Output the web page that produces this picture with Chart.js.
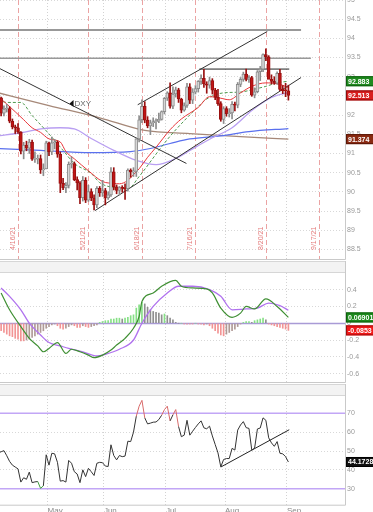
<!DOCTYPE html>
<html><head><meta charset="utf-8">
<script src="https://cdn.jsdelivr.net/npm/chart.js@4.4.1/dist/chart.umd.min.js"></script>
<style>
html,body{margin:0;padding:0;background:#fff;overflow:hidden}
#wrap{position:relative;width:373px;height:512px;background:#fff}
canvas{position:absolute;left:0}
</style></head><body>
<div id="wrap">
<canvas id="main" width="373" height="260" style="top:0"></canvas>
<canvas id="macd" width="373" height="123" style="top:260px"></canvas>
<canvas id="rsi" width="373" height="129" style="top:383px"></canvas>
</div>
<script>
// ---------- DATA ----------
const firstDay = -7; // 4/7/21 ; 4/16/21 = day 0 (trading days, US holidays skipped)
const dates = ['4/7','4/8','4/9','4/12','4/13','4/14','4/15','4/16','4/19','4/20','4/21','4/22','4/23','4/26','4/27','4/28','4/29','4/30',
'5/3','5/4','5/5','5/6','5/7','5/10','5/11','5/12','5/13','5/14','5/17','5/18','5/19','5/20','5/21','5/24','5/25','5/26','5/27','5/28',
'6/1','6/2','6/3','6/4','6/7','6/8','6/9','6/10','6/11','6/14','6/15','6/16','6/17','6/18','6/21','6/22','6/23','6/24','6/25','6/28','6/29','6/30',
'7/1','7/2','7/6','7/7','7/8','7/9','7/12','7/13','7/14','7/15','7/16','7/19','7/20','7/21','7/22','7/23','7/26','7/27','7/28','7/29','7/30',
'8/2','8/3','8/4','8/5','8/6','8/9','8/10','8/11','8/12','8/13','8/16','8/17','8/18','8/19','8/20','8/23','8/24','8/25','8/26','8/27','8/30','8/31','9/1'];
const openP = [92.33,92.45,92.05,92.16,92.17,91.84,91.69,91.67,91.56,91.06,91.22,91.14,91.30,90.85,90.85,90.87,90.57,90.60,
91.28,91.04,91.28,91.29,90.98,90.22,90.10,90.17,90.72,90.74,90.32,90.23,89.85,90.30,89.78,90.01,89.84,89.66,90.09,89.97,
90.03,89.84,89.92,90.52,90.13,90.04,90.11,90.09,90.08,90.57,90.52,90.53,91.38,91.88,92.23,91.87,91.72,91.80,91.83,91.85,91.89,92.09,
92.44,92.58,92.23,92.55,92.66,92.42,92.13,92.25,92.74,92.39,92.60,92.69,92.88,92.96,92.81,92.78,92.90,92.65,92.47,92.30,91.89,
92.17,92.04,92.06,92.28,92.26,92.80,92.93,93.07,92.93,92.98,92.52,92.61,93.13,93.20,93.58,93.52,92.93,92.88,92.83,93.09,92.67,92.64,92.63];
const highP = [92.57,92.47,92.24,92.28,92.22,91.90,91.74,91.78,91.57,91.29,91.32,91.37,91.35,91.04,90.96,90.96,90.73,91.32,
91.30,91.43,91.37,91.33,91.04,90.35,90.24,90.78,90.91,90.78,90.39,90.27,90.40,90.37,90.17,90.08,89.92,90.14,90.14,90.30,
90.09,90.00,90.63,90.63,90.18,90.14,90.16,90.21,90.60,90.60,90.63,91.40,91.98,92.40,92.35,91.96,91.87,91.93,91.90,92.05,92.11,92.46,
92.61,92.84,92.74,92.73,92.70,92.44,92.32,92.83,92.82,92.69,92.77,92.90,93.05,93.19,92.87,92.99,92.95,92.70,92.67,92.35,92.22,
92.22,92.17,92.35,92.34,92.85,92.98,93.12,93.20,93.03,93.01,92.71,93.16,93.27,93.60,93.73,93.55,93.05,93.00,93.13,93.19,92.77,92.83,92.78];
const lowP = [92.29,91.98,91.98,92.08,91.80,91.64,91.52,91.52,90.99,90.86,91.07,91.00,90.82,90.77,90.73,90.48,90.42,90.60,
90.94,90.97,91.12,90.90,89.98,90.06,89.98,90.10,90.62,90.29,90.05,89.69,89.76,89.72,89.75,89.77,89.53,89.59,89.88,89.88,
89.66,89.80,89.88,90.05,89.95,89.92,89.99,89.80,90.02,90.38,90.40,90.40,91.30,91.80,91.80,91.67,91.49,91.70,91.64,91.80,91.87,92.03,
92.38,92.18,92.17,92.47,92.33,92.06,92.10,92.20,92.30,92.30,92.55,92.60,92.80,92.72,92.57,92.70,92.55,92.40,92.25,91.84,91.78,
91.97,91.95,91.90,92.11,92.19,92.74,92.88,92.89,92.85,92.49,92.45,92.58,92.90,93.13,93.42,92.96,92.81,92.80,92.80,92.64,92.56,92.48,92.39];
const closeP = [92.45,92.05,92.16,92.17,91.84,91.69,91.67,91.56,91.06,91.22,91.14,91.30,90.85,90.85,90.87,90.57,90.60,91.28,
91.04,91.28,91.29,90.98,90.22,90.10,90.17,90.72,90.74,90.32,90.23,89.85,90.30,89.78,90.01,89.84,89.66,90.09,89.97,90.03,
89.84,89.92,90.52,90.13,90.04,90.11,90.09,90.08,90.57,90.52,90.53,91.38,91.88,92.23,91.87,91.72,91.80,91.83,91.85,91.89,92.09,92.44,
92.58,92.23,92.55,92.66,92.42,92.13,92.25,92.74,92.39,92.60,92.69,92.88,92.96,92.81,92.78,92.90,92.65,92.47,92.30,91.89,92.17,
92.04,92.06,92.28,92.26,92.80,92.93,93.07,92.93,92.98,92.52,92.61,93.13,93.20,93.58,93.52,92.93,92.88,92.83,93.09,92.67,92.64,92.63,92.513];

// moving averages (day index -> value)
const redMaDay = [-7,-4,2,5,8,11,15,17,20,25,30,34,36,39,41,43,46,49,54,58,64,68,72,75,79,83,88,92,96];
const redMaVal = [92.48,92.29,91.88,91.67,91.55,91.38,91.30,91.05,90.86,90.55,90.27,90.22,90.21,90.30,90.45,90.60,90.90,91.16,91.62,91.90,92.20,92.48,92.44,92.40,92.58,92.75,92.84,92.82,92.72];
const greenMaDay = [-7,-4,1,5,11,16,20,26,29,34,39,43,50,54,60,63,67,73,79,83,88,92,96];
const greenMaVal = [92.40,92.33,92.33,91.99,91.51,91.08,90.74,90.48,90.24,90.11,90.08,90.40,91.08,91.45,91.93,92.15,92.42,92.58,92.60,92.66,92.75,92.84,92.883];
const lavMaDay = [-7,1,9,15,20,26,34,42,49,56,61,69,76,83,90,96];
const lavMaVal = [91.46,91.54,91.65,91.67,91.64,91.39,91.08,90.82,90.71,90.87,91.08,91.41,91.67,92.12,92.46,92.59];
const blueMaDay = [-7,8,26,40,47,54,61,72,82,96];
const blueMaVal = [91.13,91.08,91.02,91.05,91.13,91.26,91.38,91.46,91.57,91.65];
const brownMaDay = [-7,11,29,45,61,79,96];
const brownMaVal = [92.58,92.25,91.93,91.60,91.52,91.44,91.374];

// drawn trend lines (day, value)
const descLineDay = [-6.4, 59.8], descLineVal = [93.21, 90.74];
const upChanDay = [42.5, 88.5], upChanVal = [92.27, 94.18];
const loChanDay = [27.3, 100.5], loChanVal = [89.51, 92.98];
const hLine1Day = [-6.4, 100.5], hLine1Val = [94.22, 94.22];
const hLine2Day = [-6.4, 104], hLine2Val = [93.48, 93.48];
const hLine3Day = [64.4, 96.3], hLine3Val = [93.20, 93.20];

const markerDays = [0, 25, 44, 63, 88, 107];
const markerLabels = ['4/16/21','5/21/21','6/18/21','7/16/21','8/20/21','9/17/21'];
const monthTickDays = [10.5, 30.5, 52.5, 73.5, 95.5];
const monthLabels = ['May','Jun','Jul','Aug','Sep'];
const dxyTag = {day: 19, value: 92.30, text: 'DXY'};

// MACD
const macdDay = [-6,-3,1,4,7,9,11,14,17,19,22,25,27,30,33,35,38,41,43,44,48,51,56,58,62,67,69,72,76,79,81,84,88,92,96];
const macdVal = [0.36,0.16,-0.04,-0.18,-0.27,-0.34,-0.30,-0.23,-0.36,-0.31,-0.34,-0.38,-0.41,-0.38,-0.32,-0.26,-0.18,-0.06,0.08,0.26,0.36,0.44,0.51,0.44,0.42,0.41,0.36,0.18,0.07,0.12,0.20,0.17,0.29,0.20,0.06901];
const signalDay = [-6,-3,1,4,8,11,15,18,23,28,31,36,41,44,48,53,57,62,68,72,76,81,85,89,93,96];
const signalVal = [0.42,0.32,0.16,0.0,-0.14,-0.23,-0.27,-0.30,-0.34,-0.39,-0.37,-0.31,-0.20,0.0,0.20,0.36,0.44,0.44,0.40,0.32,0.16,0.17,0.18,0.24,0.21,0.1543];
const histVal = [-0.08,-0.09,-0.11,-0.13,-0.15,-0.16,-0.18,
-0.19,-0.21,-0.21,-0.20,-0.19,-0.17,-0.15,-0.13,-0.11,-0.09,
-0.06,-0.04,-0.02,-0.01,-0.03,-0.06,-0.07,-0.06,-0.04,-0.02,
-0.03,-0.05,-0.05,-0.03,-0.04,-0.05,-0.04,-0.03,-0.02,0.01,
0.02,0.03,0.03,0.05,0.05,0.06,0.06,0.05,0.06,0.07,
0.09,0.10,0.18,0.22,0.25,0.23,0.19,0.16,0.14,0.13,
0.12,0.10,0.11,0.09,0.06,0.04,0.01,0.00,0.00,-0.01,
-0.01,-0.01,-0.01,0.00,-0.01,-0.01,-0.02,-0.01,-0.03,-0.06,
-0.09,-0.12,-0.14,-0.15,-0.13,-0.11,-0.09,-0.07,-0.04,-0.01,
0.01,0.02,0.02,0.01,0.03,0.04,0.05,0.06,0.04,-0.01,
-0.02,-0.03,-0.04,-0.05,-0.06,-0.07,-0.0853];

// RSI
const rsiVal = [49.0,49.6,50.2,47.5,44.5,42.5,41.5,
40.5,33.5,35.8,35.0,38.8,33.2,33.6,33.8,30.2,31.5,
48.0,42.5,48.8,48.5,44.0,34.0,34.3,33.5,45.0,43.5,
39.0,37.8,33.2,40.0,36.4,40.8,39.0,37.0,43.5,44.0,
43.8,42.0,41.8,53.3,47.6,45.3,47.6,47.0,47.3,55.2,
55.0,60.0,68.5,73.8,76.9,67.6,64.4,64.8,65.3,65.4,
66.7,69.0,72.0,73.8,66.0,69.2,72.0,63.0,57.6,58.4,
66.3,58.4,60.5,62.5,64.4,66.0,62.3,61.8,63.2,58.0,
53.5,49.0,41.6,45.5,46.0,46.0,51.4,50.5,61.1,63.8,
65.6,62.4,62.0,50.5,51.5,61.7,62.2,67.6,66.3,57.0,
54.3,52.5,55.0,48.8,48.5,47.0,44.1728];
const rsiTrendDay = [72, 96.3], rsiTrendVal = [41.5, 61.3];
const rsiLevels = [70, 30];

// ---------- SETUP ----------
Chart.defaults.font.family = "'Liberation Sans', Arial, sans-serif";
Chart.defaults.animation = false;
const X_MIN = -6.4, X_MAX = 116.1;
const AXIS_W = 28;
const dayOf = k => k + firstDay;
const fmtTick = v => String(Number(Number(v).toFixed(3)));

function xScale(showLabels) {
  return {
    type: 'linear', min: X_MIN, max: X_MAX, offset: false,
    afterBuildTicks: s => { s.ticks = monthTickDays.map(v => ({value: v})); },
    grid: { color: '#d2d2d2', drawTicks: false, offset: false },
    border: { display: false, dash: [1, 2] },
    ticks: { display: showLabels, autoSkip: false, maxRotation: 0, minRotation: 0, align: 'start', padding: 1,
             color: '#8a8a8a', font: { size: 8 }, callback: (v, i) => monthLabels[i] },
    afterFit: s => { s.height = showLabels ? 7.3 : 0; s.paddingLeft = 0; s.paddingRight = 0; }
  };
}
function yScale(min, max, step) {
  return {
    position: 'right', min, max,
    ticks: { stepSize: step, includeBounds: false, color: '#999', font: { size: 7 }, padding: 2, callback: fmtTick },
    grid: { color: '#d8d8d8', drawTicks: false },
    border: { display: false, dash: [1, 2] },
    afterFit: s => { s.width = AXIS_W; s.paddingTop = 0; s.paddingBottom = 0; }
  };
}
function lineDs(days, vals, color, width, dash, order, smooth) {
  return { type: 'line', data: days.map((d, k) => ({x: d, y: vals[k]})), borderColor: color, borderWidth: width,
    borderDash: dash || [], pointRadius: 0, fill: false, order,
    cubicInterpolationMode: smooth ? 'monotone' : 'default', tension: 0 };
}
function drawBox(ctx, ca, yPx, text, bg, bd) {
  const h = 10;
  ctx.save();
  ctx.fillStyle = bg; ctx.fillRect(ca.right + 1, yPx - h / 2, 31, h);
  ctx.strokeStyle = bd; ctx.lineWidth = 1; ctx.strokeRect(ca.right + 1.5, yPx - h / 2 + 0.5, 31, h - 1);
  ctx.fillStyle = '#fff'; ctx.font = "bold 7px 'Liberation Sans', Arial"; ctx.textAlign = 'left'; ctx.textBaseline = 'middle';
  ctx.fillText(text, ca.right + 3, yPx + 0.5);
  ctx.restore();
}
function frame(ctx, ca, withBand) {
  ctx.save();
  ctx.strokeStyle = '#c9c9c9'; ctx.lineWidth = 1;
  if (withBand) {
    ctx.fillStyle = '#f3f3f3'; ctx.fillRect(0, 1, ca.right, ca.top - 1);
    ctx.strokeStyle = '#d6d6d6';
    ctx.beginPath(); ctx.moveTo(0, 1.5); ctx.lineTo(ca.right, 1.5); ctx.stroke();
    ctx.beginPath(); ctx.moveTo(0, ca.top - 0.5); ctx.lineTo(ca.right, ca.top - 0.5); ctx.stroke();
    ctx.strokeStyle = '#c9c9c9';
  }
  ctx.beginPath();
  ctx.moveTo(ca.right + 0.5, withBand ? 1 : 0); ctx.lineTo(ca.right + 0.5, ca.bottom + 0.5); ctx.lineTo(0, ca.bottom + 0.5);
  ctx.stroke();
  ctx.restore();
}

// ---------- MAIN PRICE PANEL ----------
const isUp = closeP.map((c, k) => c >= openP[k]);
const mainDecor = {
  id: 'mainDecor',
  beforeDatasetsDraw(chart) {
    const {ctx, chartArea: ca, scales: {x}} = chart;
    ctx.save();
    ctx.beginPath(); ctx.rect(ca.left, ca.top, ca.width, ca.height); ctx.clip();
    markerDays.forEach((d, k) => {
      const px = Math.round(x.getPixelForValue(d)) + 0.5;
      ctx.strokeStyle = '#eba3a3'; ctx.lineWidth = 1; ctx.setLineDash([5, 3]);
      ctx.beginPath(); ctx.moveTo(px, ca.top); ctx.lineTo(px, ca.bottom); ctx.stroke();
      ctx.setLineDash([]);
      ctx.save();
      ctx.translate(px - 1.5, ca.bottom - 9);
      ctx.rotate(-Math.PI / 2);
      ctx.fillStyle = '#e47b7b'; ctx.font = "7px 'Liberation Sans', Arial"; ctx.textAlign = 'left'; ctx.textBaseline = 'bottom';
      ctx.fillText(markerLabels[k], 0, 0);
      ctx.restore();
    });
    ctx.restore();
  },
  afterDraw(chart) {
    const {ctx, chartArea: ca, scales: {x, y}} = chart;
    frame(ctx, ca, false);
    const tx = x.getPixelForValue(dxyTag.day), ty = y.getPixelForValue(dxyTag.value);
    ctx.save();
    ctx.fillStyle = '#111';
    ctx.beginPath(); ctx.moveTo(tx - 2, ty); ctx.lineTo(tx + 2, ty - 3.5); ctx.lineTo(tx + 2, ty + 3.5); ctx.closePath(); ctx.fill();
    ctx.fillStyle = '#666'; ctx.font = "8px 'Liberation Sans', Arial"; ctx.textAlign = 'left'; ctx.textBaseline = 'middle';
    ctx.fillText(dxyTag.text, tx + 3, ty + 0.5);
    ctx.restore();
    const lastG = greenMaVal[greenMaVal.length - 1], lastC = closeP[closeP.length - 1], lastB = brownMaVal[brownMaVal.length - 1];
    drawBox(ctx, ca, y.getPixelForValue(lastG), lastG.toFixed(3), '#1f8a1f', '#0d5e0d');
    drawBox(ctx, ca, y.getPixelForValue(lastC), lastC.toFixed(3), '#d81e1e', '#8e0c0c');
    drawBox(ctx, ca, y.getPixelForValue(lastB), lastB.toFixed(3), '#8a2a12', '#5a1606');
  }
};
new Chart(document.getElementById('main'), {
  type: 'line',
  data: { datasets: [
    { type: 'bar', data: closeP.map((c, k) => ({x: dayOf(k), y: [Math.min(openP[k], c), Math.max(openP[k], c)]})),
      backgroundColor: isUp.map(u => u ? '#d6d6d6' : '#c01515'), borderColor: isUp.map(u => u ? '#8c8c8c' : '#981010'),
      borderWidth: 1, borderSkipped: false, barThickness: 3, minBarLength: 1, grouped: false, order: 0 },
    { type: 'bar', data: closeP.map((c, k) => ({x: dayOf(k), y: [lowP[k], highP[k]]})),
      backgroundColor: isUp.map(u => u ? '#8c8c8c' : '#981010'), barThickness: 1, grouped: false, order: 1 },
    lineDs(redMaDay, redMaVal, '#e8373b', 1, null, 3, true),
    lineDs(greenMaDay, greenMaVal, '#4f9a4f', 1, [3, 2], 4, true),
    lineDs(lavMaDay, lavMaVal, '#b99ff2', 1.3, null, 5, true),
    lineDs(blueMaDay, blueMaVal, '#5a70ee', 1.2, null, 6, true),
    lineDs(brownMaDay, brownMaVal, '#a68878', 1.3, null, 7, true),
    lineDs(descLineDay, descLineVal, '#333', 1, null, 2, false),
    lineDs(upChanDay, upChanVal, '#333', 1, null, 2, false),
    lineDs(loChanDay, loChanVal, '#333', 1, null, 2, false),
    lineDs(hLine1Day, hLine1Val, '#777', 1.6, null, 2, false),
    lineDs(hLine2Day, hLine2Val, '#999', 1.6, null, 2, false),
    lineDs(hLine3Day, hLine3Val, '#222', 1, null, 2, false)
  ]},
  options: {
    responsive: false, events: [],
    layout: { padding: { top: 0, bottom: 1, left: 0, right: 0 } },
    plugins: { legend: { display: false }, tooltip: { enabled: false } },
    scales: { x: xScale(false), y: yScale(88.25, 95, 0.5) }
  },
  plugins: [mainDecor]
});

// ---------- MACD PANEL ----------
const histColors = histVal.map((v, k) => {
  const prev = k > 0 ? histVal[k - 1] : v;
  if (v >= 0) return v >= prev ? '#86e086' : '#8f8f8f';
  return v <= prev ? '#f29494' : '#b09a96';
});
const macdDecor = {
  id: 'macdDecor',
  beforeDatasetsDraw(chart) {
    const {ctx, chartArea: ca, scales: {y}} = chart;
    const py = Math.round(y.getPixelForValue(0)) + 0.5;
    ctx.save(); ctx.strokeStyle = '#a99bd6'; ctx.lineWidth = 1.3;
    ctx.beginPath(); ctx.moveTo(ca.left, py); ctx.lineTo(ca.right, py); ctx.stroke(); ctx.restore();
  },
  afterDraw(chart) {
    const {ctx, chartArea: ca, scales: {y}} = chart;
    frame(ctx, ca, true);
    const lm = macdVal[macdVal.length - 1], lh = histVal[histVal.length - 1];
    drawBox(ctx, ca, y.getPixelForValue(lm), lm.toFixed(5), '#1c8a1c', '#0d5e0d');
    drawBox(ctx, ca, y.getPixelForValue(lh), lh.toFixed(4), '#f01818', '#a00c0c');
  }
};
new Chart(document.getElementById('macd'), {
  type: 'line',
  data: { datasets: [
    { type: 'bar', data: histVal.map((v, k) => ({x: dayOf(k), y: v})), backgroundColor: histColors,
      barThickness: 1, grouped: false, order: 3 },
    lineDs(signalDay, signalVal, '#b072ee', 1.3, null, 2, true),
    lineDs(macdDay, macdVal, '#3f8f33', 1.2, null, 1, true)
  ]},
  options: {
    responsive: false, events: [],
    layout: { padding: { top: 13, bottom: 1, left: 0, right: 0 } },
    plugins: { legend: { display: false }, tooltip: { enabled: false } },
    scales: { x: xScale(false), y: yScale(-0.7, 0.598, 0.2) }
  },
  plugins: [macdDecor]
});

// ---------- RSI PANEL ----------
const rsiDecor = {
  id: 'rsiDecor',
  afterDraw(chart) {
    const {ctx, chartArea: ca, scales: {y}} = chart;
    frame(ctx, ca, true);
    const lr = rsiVal[rsiVal.length - 1];
    drawBox(ctx, ca, y.getPixelForValue(lr), lr.toFixed(4), '#111', '#000');
  }
};
new Chart(document.getElementById('rsi'), {
  type: 'line',
  data: { datasets: [
    ...rsiLevels.map(lv => lineDs([X_MIN, X_MAX], [lv, lv], '#c2a6f6', 1.5, null, 3, false)),
    { type: 'line', data: rsiVal.map((v, k) => ({x: dayOf(k), y: v})), borderColor: '#333', borderWidth: 1,
      pointRadius: 0, fill: false, order: 1, tension: 0,
      segment: { borderColor: c => {
        const a = c.p0.parsed.y, b = c.p1.parsed.y;
        if (a > 70 || b > 70) return '#d86a6a';
        if (a < 31 || b < 31) return '#3e9e3e';
        return undefined;
      } } },
    lineDs(rsiTrendDay, rsiTrendVal, '#222', 1, null, 2, false)
  ]},
  options: {
    responsive: false, events: [],
    layout: { padding: { top: 13, bottom: 0, left: 0, right: 0 } },
    plugins: { legend: { display: false }, tooltip: { enabled: false } },
    scales: { x: xScale(true), y: yScale(21.5, 79.2, 10) }
  },
  plugins: [rsiDecor]
});
</script>
</body></html>
